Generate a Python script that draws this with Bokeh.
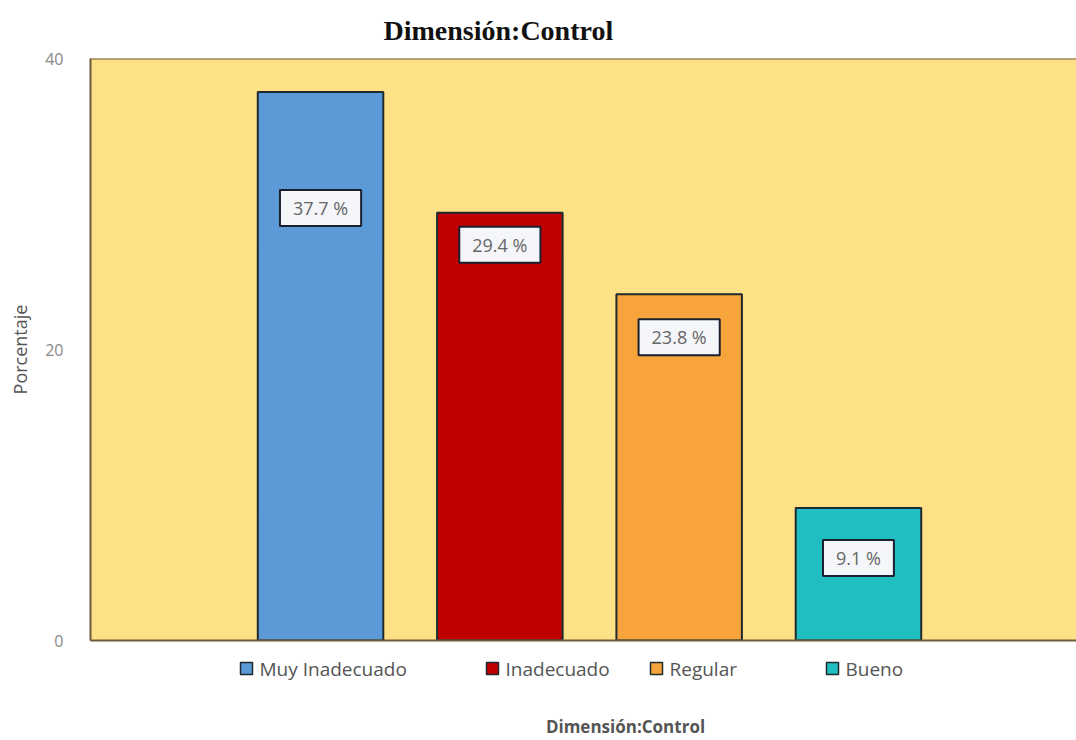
from bokeh.plotting import figure
from bokeh.layouts import column
from bokeh.models import Range1d, Span, Label, ColumnDataSource, FixedTicker
from bokeh.core.properties import value
from bokeh.embed import file_html
from bokeh.resources import INLINE

# Survey results for the "Control" dimension (percent of respondents)
categories = ["Muy Inadecuado", "Inadecuado", "Regular", "Bueno"]
percentages = [37.7, 29.4, 23.8, 9.1]
bar_colors = ["#5B9AD6", "#C00000", "#F6A43B", "#20BEC1"]
y_ticks = [0, 20, 40]
title_text = "Dimensión:Control"
x_title_text = "Dimensión:Control"
y_title_text = "Porcentaje"

# pixel drop of each value box below the top of its bar
label_drop_px = [116, 32, 43, 50]
# left edge (page px) of each legend swatch in the strip under the chart
legend_left_px = [240, 486, 650, 826]

LEFT, FRAME_W, FRAME_H = 90, 986, 582
TOP_H = 58
BOTTOM_BORDER = 12
STRIP_H = 740 - (TOP_H + FRAME_H + BOTTOM_BORDER)

positions = list(range(1, len(categories) + 1))
source = ColumnDataSource(dict(x=positions, top=percentages,
                               color=bar_colors, cat=categories))

p = figure(frame_width=FRAME_W, frame_height=FRAME_H, output_backend="svg",
           toolbar_location=None,
           x_range=Range1d(-0.283, 5.216), y_range=Range1d(0, 40),
           min_border_left=LEFT, min_border_right=0, min_border_top=TOP_H,
           min_border_bottom=BOTTOM_BORDER)

p.background_fill_color = "#FEE087"
p.border_fill_color = "white"
p.outline_line_color = None
p.grid.visible = False

p.vbar(x="x", top="top", width=0.70, bottom=0, fill_color="color",
       line_color="#1E2A2E", line_width=2, source=source)

# top edge of the frame
p.add_layout(Span(location=40, dimension="width", line_color="#6B5C3C", line_width=2))

# y axis
p.yaxis.ticker = FixedTicker(ticks=y_ticks)
p.yaxis.axis_line_color = "#6B5C3C"
p.yaxis.axis_line_width = 2
p.yaxis.major_tick_line_color = None
p.yaxis.minor_tick_line_color = None
p.yaxis.major_label_text_font = "Open Sans"
p.yaxis.major_label_text_font_size = "16px"
p.yaxis.major_label_text_color = "#888888"
p.yaxis.major_label_standoff = 21
p.yaxis.axis_label = y_title_text
p.yaxis.axis_label_text_font = "Open Sans"
p.yaxis.axis_label_text_font_size = "18px"
p.yaxis.axis_label_text_font_style = "normal"
p.yaxis.axis_label_text_color = "#555555"
p.yaxis.axis_label_standoff = 10

# x axis: only the baseline
p.xaxis.ticker = FixedTicker(ticks=[])
p.xaxis.axis_line_color = "#6B5C3C"
p.xaxis.axis_line_width = 2
p.xaxis.major_tick_line_color = None
p.xaxis.minor_tick_line_color = None
p.xaxis.major_tick_out = 0
p.xaxis.major_label_standoff = 0
p.xaxis.major_label_text_font_size = "0px"

# value boxes inside the bars
for xpos, val, drop in zip(positions, percentages, label_drop_px):
    p.add_layout(Label(x=xpos, y=val, y_offset=-drop, text=f"{val} %",
                       text_align="center", text_baseline="middle",
                       text_font="Open Sans", text_font_size="18px",
                       text_color="#666666",
                       background_fill_color="#F5F6FA",
                       border_line_color="#1A2030", border_line_width=2,
                       padding=dict(left=13, right=13, top=6, bottom=6)))

# chart title
p.title.text = title_text
p.title.align = "left"
p.title.offset = 293
p.title.standoff = 25
p.title.text_font = "Liberation Serif"
p.title.text_font_size = "28px"
p.title.text_font_style = "bold"
p.title.text_color = "#111111"

# strip under the chart: legend swatches and the x-axis caption
strip = figure(frame_width=FRAME_W, frame_height=STRIP_H, output_backend="svg",
               toolbar_location=None, x_range=Range1d(LEFT, LEFT + FRAME_W),
               y_range=Range1d(0, STRIP_H), min_border=0,
               min_border_left=LEFT, min_border_right=0)
strip.axis.visible = False
strip.grid.visible = False
strip.outline_line_color = None
strip.background_fill_color = "white"
strip.border_fill_color = "white"

legend_y = 740 - 668
swatch = ColumnDataSource(dict(
    x=[l + 6 for l in legend_left_px], y=[legend_y] * len(categories),
    tx=[l + 19 for l in legend_left_px], color=bar_colors, cat=categories))
strip.rect(x="x", y="y", width=12, height=12, fill_color="color",
           line_color="#1E2A2E", line_width=1.5, source=swatch)
strip.text(x="tx", y="y", text="cat", source=swatch,
           text_font=value("Open Sans"), text_font_size="19px",
           text_color="#555555", text_baseline="middle", text_align="left")
strip.text(x=[625], y=[740 - 726], text=[x_title_text],
           text_font=value("Open Sans"), text_font_size="17px",
           text_font_style="bold", text_color="#555555",
           text_baseline="middle", text_align="center")

layout = column(p, strip, spacing=0)
open("out.html", "w").write(file_html(layout, INLINE))
